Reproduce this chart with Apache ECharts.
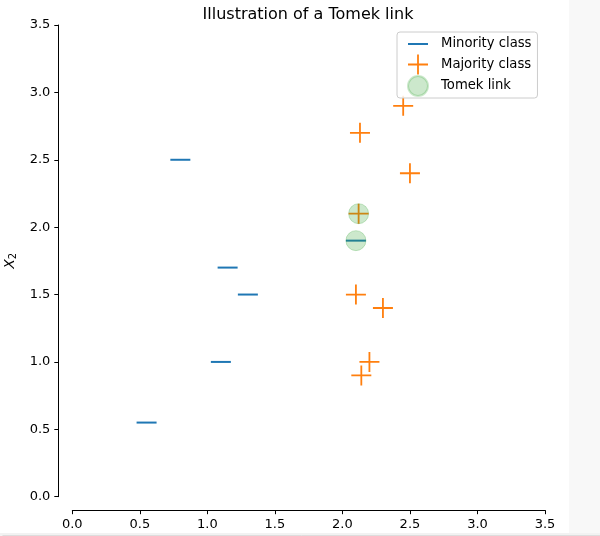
<!DOCTYPE html>
<html>
<head>
<meta charset="utf-8">
<script src="https://cdn.jsdelivr.net/npm/echarts@6/dist/echarts.min.js"></script>
<style>
html,body{margin:0;padding:0;background:#fff;}
#chart{width:600px;height:536px;}
</style>
</head>
<body>
<div id="chart"></div>
<script>
// ---- data ----
var minorityX = [1.1, 1.3, 1.15, 0.8, 0.55, 2.1];
var minorityY = [1.0, 1.5, 1.7, 2.5, 0.55, 1.9];
var majorityX = [2.1, 2.12, 2.13, 2.14, 2.2, 2.3, 2.5, 2.45];
var majorityY = [1.5, 2.1, 2.7, 0.9, 1.0, 1.4, 2.4, 2.9];
var tomekX = [2.1, 2.12];
var tomekY = [1.9, 2.1];
var seriesNames = ['Minority class', 'Majority class', 'Tomek link'];
var titleText = 'Illustration of a Tomek link';

function pairs(xs, ys) { return xs.map(function (x, i) { return [x, ys[i]]; }); }

var FONT = 'DejaVu Sans';
var plusPath = 'path://M9.1,0h1.8v20h-1.8z M0,9.1h20v1.8h-20z';
var dashLegend = 'path://M0,0h0.01v0.01h-0.01z M0,9h20v2h-20z M19.99,19.99h0.01v0.01h-0.01z';

var chart = echarts.init(document.getElementById('chart'), null, {renderer: 'canvas'});
var option = {
  animation: false,
  backgroundColor: '#ffffff',
  textStyle: {fontFamily: FONT, color: '#000'},
  title: {
    text: titleText,
    left: 303, top: 2, textAlign: 'center',
    textStyle: {fontFamily: FONT, fontSize: 16, fontWeight: 'normal', color: '#000'}
  },
  grid: {left: 72.3, right: 55, top: 25, bottom: 39.3, containLabel: false, outerBoundsMode: 'none'},
  legend: {
    orient: 'vertical',
    left: 397, top: 32,
    padding: [2, 6, 1, 10],
    itemWidth: 20, itemHeight: 20, itemGap: 0.5,
    backgroundColor: 'rgba(255,255,255,0.85)',
    borderColor: '#cccccc', borderWidth: 1, borderRadius: 3,
    textStyle: {fontFamily: FONT, fontSize: 13.2, color: '#000', padding: [0, 0, 0, 8]},
    itemTextGap: 13,
    data: [
      {name: seriesNames[0], icon: dashLegend},
      {name: seriesNames[1], icon: plusPath},
      {name: seriesNames[2], icon: 'circle'}
    ]
  },
  xAxis: {
    type: 'value', min: 0, max: 3.5, interval: 0.5, offset: 13.5,
    axisLine: {show: true, onZero: false, lineStyle: {color: '#000', width: 1}},
    axisTick: {show: true, length: 4, lineStyle: {color: '#000'}},
    axisLabel: {fontFamily: FONT, fontSize: 13, color: '#000', margin: 8,
      formatter: function (v) { return v.toFixed(1); }},
    splitLine: {show: false}
  },
  yAxis: {
    type: 'value', min: 0, max: 3.5, interval: 0.5, offset: 14,
    name: '{i|X}{s|2}', nameLocation: 'middle', nameRotate: 90, nameGap: 39,
    nameTextStyle: {
      fontFamily: FONT, color: '#000',
      rich: {
        i: {fontFamily: FONT, fontSize: 14, fontStyle: 'italic', color: '#000', lineHeight: 16},
        s: {fontFamily: FONT, fontSize: 10, color: '#000', lineHeight: 16, verticalAlign: 'bottom', padding: [6, 0, 0, 0]}
      }
    },
    axisLine: {show: true, onZero: false, lineStyle: {color: '#000', width: 1}},
    axisTick: {show: true, length: 4, lineStyle: {color: '#000'}},
    axisLabel: {fontFamily: FONT, fontSize: 13, color: '#000', margin: 8,
      formatter: function (v) { return v.toFixed(1); }},
    splitLine: {show: false}
  },
  graphic: [
    {type: 'rect', left: 569, top: 0, z: -10, silent: true,
      shape: {width: 31, height: 536}, style: {fill: '#f8f8f8'}},
    {type: 'rect', left: 0, top: 533, z: -10, silent: true,
      shape: {width: 600, height: 3}, style: {fill: '#f2f2f2'}},
    {type: 'line', left: 0, top: 533, z: -9, silent: true,
      shape: {x1: 0, y1: 0, x2: 600, y2: 0}, style: {stroke: '#dddddd', lineWidth: 1}}
  ],
  series: [
    {
      name: seriesNames[0], type: 'scatter', z: 2,
      symbol: 'rect', symbolSize: [20, 2],
      itemStyle: {color: '#1f77b4', opacity: 1},
      data: pairs(minorityX, minorityY)
    },
    {
      name: seriesNames[1], type: 'scatter', z: 3,
      symbol: plusPath, symbolSize: 20,
      itemStyle: {color: '#ff7f0e', opacity: 1},
      data: pairs(majorityX, majorityY)
    },
    {
      name: seriesNames[2], type: 'scatter', z: 4,
      symbol: 'circle', symbolSize: 20,
      itemStyle: {color: 'rgba(44,160,44,0.3)', borderColor: 'rgba(44,160,44,0.3)', borderWidth: 1},
      data: pairs(tomekX, tomekY)
    }
  ]
};
chart.setOption(option);
</script>
</body>
</html>
